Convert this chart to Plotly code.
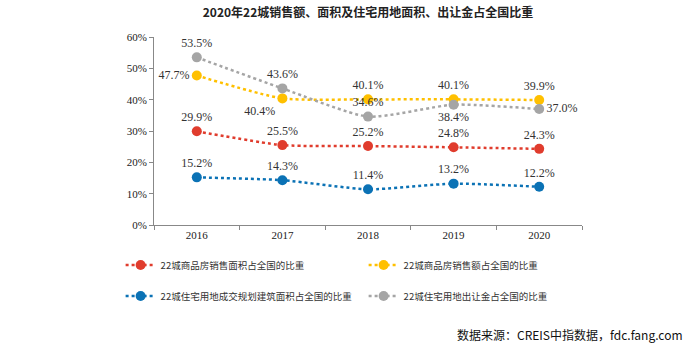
import plotly.graph_objects as go

years = ["2016", "2017", "2018", "2019", "2020"]
area_share = [29.9, 25.5, 25.2, 24.8, 24.3]
sales_share = [47.7, 40.4, 40.1, 40.1, 39.9]
land_area_share = [15.2, 14.3, 11.4, 13.2, 12.2]
land_price_share = [53.5, 43.6, 34.6, 38.4, 37.0]

names = ["22城商品房销售面积占全国的比重", "22城商品房销售额占全国的比重",
         "22城住宅用地成交规划建筑面积占全国的比重", "22城住宅用地出让金占全国的比重"]
colors = ["#E03C2D", "#FFC000", "#0B72B5", "#A5A5A5"]
series = [area_share, sales_share, land_area_share, land_price_share]
positions = [
    ["top center"] * 5,
    ["middle left", "bottom left", "top center", "top center", "top center"],
    ["top center"] * 5,
    ["top center", "top center", "top center", "bottom center", "middle right"],
]
legends = ["legend", "legend", "legend2", "legend2"]

fig = go.Figure()
for name, vals, col, pos, lg in zip(names, series, colors, positions, legends):
    fig.add_trace(go.Scatter(
        x=years, y=vals, name=name, mode="lines+markers+text",
        line=dict(color=col, width=2.5, dash="dot", shape="spline", smoothing=0.6),
        marker=dict(color=col, size=10),
        text=[f"{v:.1f}%" for v in vals], textposition=pos,
        textfont=dict(family="Liberation Serif", size=12, color="#333333"),
        legend=lg,
    ))

legend_common = dict(orientation="h", xanchor="left", yanchor="middle",
                     entrywidth=198, entrywidthmode="pixels",
                     font=dict(family="Noto Sans CJK SC", size=9.5, color="#333333"),
                     bgcolor="rgba(0,0,0,0)")

fig.update_layout(
    width=697, height=351,
    margin=dict(l=154, r=115, t=37, b=126),
    plot_bgcolor="white", paper_bgcolor="white",
    title=dict(text="<b>2020年22城销售额、面积及住宅用地面积、出让金占全国比重</b>",
               x=0.5, xref="paper", y=0.963, yanchor="middle",
               font=dict(family="Noto Sans CJK SC", size=12, color="#222222")),
    xaxis=dict(type="category", range=[-0.5, 4.5], tickson="boundaries",
               ticks="outside", ticklen=4, tickcolor="#888888",
               showline=True, linecolor="#888888", linewidth=1,
               showgrid=False,
               tickfont=dict(family="Liberation Serif", size=11, color="#222222")),
    yaxis=dict(range=[0, 60], tickvals=[0, 10, 20, 30, 40, 50, 60],
               ticktext=["0%", "10%", "20%", "30%", "40%", "50%", "60%"],
               ticks="outside", ticklen=4, tickcolor="#888888",
               showline=True, linecolor="#888888", linewidth=1,
               showgrid=False, zeroline=False,
               tickfont=dict(family="Liberation Serif", size=11, color="#222222")),
    legend=dict(x=-0.078, y=-0.213, **legend_common),
    legend2=dict(x=-0.078, y=-0.378, **legend_common),
    annotations=[dict(text="数据来源：CREIS中指数据，fdc.fang.com", xref="paper", yref="paper",
                      x=1.24, y=-0.585, xanchor="right", yanchor="middle", showarrow=False,
                      font=dict(family="Noto Sans CJK SC", size=12, color="#111111"))],
)

fig.write_html("out.html")
